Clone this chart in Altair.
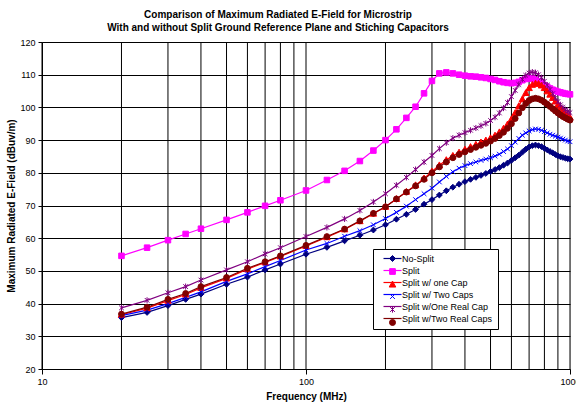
import altair as alt
import pandas as pd

# ---- data ----
freqs = [20, 25, 30, 35, 40, 50, 60, 70, 80, 100,
         120, 140, 160, 180, 200, 220, 240, 260, 280, 300,
         320, 340, 360, 380, 400, 420, 440, 460, 480, 500,
         520, 540, 560, 580, 600, 620, 640, 660, 680, 700,
         720, 740, 760, 780, 800, 820, 840, 860, 880, 900,
         920, 940, 960, 980, 1000]

no_split = [35.7, 37.3, 39.4, 41.3, 42.9, 45.9, 48.1, 50.3, 52.1, 55.1,
            57.2, 59.2, 60.9, 62.5, 64.1, 65.8, 67.3, 68.8, 70.4, 71.8,
            73.2, 74.5, 75.6, 76.5, 77.3, 78.0, 78.6, 79.2, 79.8, 80.4,
            81.0, 81.6, 82.3, 83.0, 83.8, 84.6, 85.4, 86.3, 87.2, 87.9,
            88.3, 88.5, 88.3, 88.0, 87.5, 87.0, 86.5, 86.1, 85.6, 85.2,
            84.9, 84.7, 84.5, 84.3, 84.2]

split = [54.6, 57.1, 59.4, 61.3, 62.9, 65.6, 67.9, 69.9, 71.6, 74.6,
         77.8, 80.6, 83.6, 86.8, 90.0, 93.3, 96.8, 100.2, 104.3, 108.1,
         110.4, 110.7, 110.4, 110.0, 109.7, 109.5, 109.4, 109.2, 109.0, 108.7,
         108.4, 108.0, 107.7, 107.5, 107.4, 107.5, 107.8, 108.3, 108.7, 108.9,
         108.8, 108.5, 108.0, 107.4, 106.8, 106.3, 105.8, 105.4, 105.1, 104.8,
         104.6, 104.4, 104.2, 104.1, 104.0]

one_cap = [36.6, 38.6, 40.9, 42.8, 44.8, 47.7, 50.5, 52.6, 54.4, 57.6,
           60.3, 62.7, 65.2, 67.5, 69.6, 72.0, 74.2, 76.2, 78.3, 80.4,
           82.3, 83.9, 85.2, 86.2, 87.1, 87.9, 88.6, 89.3, 89.9, 90.6,
           91.4, 92.4, 93.5, 94.8, 96.4, 98.3, 100.4, 102.5, 104.4, 105.9,
           106.9, 107.3, 107.2, 106.7, 105.9, 104.9, 103.9, 102.9, 101.8, 100.8,
           99.9, 99.0, 98.2, 97.5, 96.9]

two_caps = [36.3, 38.0, 40.0, 41.9, 43.6, 46.8, 49.1, 51.3, 53.2, 56.4,
            58.4, 60.6, 62.3, 64.1, 66.0, 67.9, 69.8, 71.8, 73.6, 75.3,
            77.2, 78.9, 80.3, 81.4, 82.2, 82.8, 83.3, 83.8, 84.2, 84.6,
            85.1, 85.7, 86.5, 87.3, 88.3, 89.4, 90.5, 91.5, 92.2, 92.8,
            93.2, 93.4, 93.3, 93.0, 92.6, 92.2, 91.8, 91.5, 91.2, 90.9,
            90.6, 90.3, 90.0, 89.7, 89.5]

one_real_cap = [38.7, 41.0, 43.3, 45.2, 47.2, 50.3, 52.8, 55.2, 57.1, 60.5,
                63.3, 65.9, 68.5, 71.1, 73.6, 76.2, 78.6, 81.0, 83.3, 85.3,
                87.4, 89.2, 90.6, 91.5, 92.3, 93.0, 93.7, 94.4, 95.1, 96.0,
                97.0, 98.3, 99.8, 101.5, 103.3, 105.2, 107.0, 108.6, 109.8, 110.5,
                110.8, 110.6, 110.0, 109.1, 108.0, 106.8, 105.5, 104.2, 102.9, 101.8,
                100.8, 100.0, 99.3, 98.8, 98.4]

two_real_caps = [36.8, 38.9, 41.3, 43.1, 45.2, 48.0, 50.8, 52.8, 54.6, 57.8,
                 60.5, 62.8, 65.3, 67.6, 69.6, 72.0, 74.1, 76.0, 78.0, 80.0,
                 81.8, 83.3, 84.6, 85.6, 86.4, 87.1, 87.8, 88.4, 89.0, 89.7,
                 90.5, 91.4, 92.4, 93.6, 95.0, 96.6, 98.3, 99.9, 101.2, 102.1,
                 102.6, 102.8, 102.6, 102.2, 101.6, 101.0, 100.3, 99.6, 98.9, 98.3,
                 97.7, 97.2, 96.8, 96.4, 96.1]

names = ["No-Split", "Split", "Split w/ one Cap", "Split w/ Two Caps",
         "Split w/One Real Cap", "Split w/Two Real Caps"]
colors = ["#000080", "#FF00FF", "#FF0000", "#0000FF", "#800080", "#800000"]

grid_freqs = [10, 20, 30, 40, 50, 60, 70, 80, 90,
              100, 200, 300, 400, 500, 600, 700, 800, 900, 1000]
x_label_values = [10, 100, 1000]
y_values = [20, 30, 40, 50, 60, 70, 80, 90, 100, 110, 120]

series = [no_split, split, one_cap, two_caps, one_real_cap, two_real_caps]

rows = []
for i, (name, vals) in enumerate(zip(names, series)):
    for f, v in zip(freqs, vals):
        rows.append({"freq": f, "value": v, "series": name,
                     "series_l": name, "order": i})
df = pd.DataFrame(rows)
grid_df = pd.DataFrame({"g": grid_freqs})

# marker shapes (unit paths)
DIAMOND = "M0,-1L1,0L0,1L-1,0Z"
SQUARE = "M-0.95,-0.95L0.95,-0.95L0.95,0.95L-0.95,0.95Z"
TRIANGLE = "M0,-1.15L1.1,0.85L-1.1,0.85Z"
XMARK = "M-0.8,-0.8L0.8,0.8M-0.8,0.8L0.8,-0.8"
STAR = "M-0.8,-0.8L0.8,0.8M-0.8,0.8L0.8,-0.8M0,-1.05L0,1.05"
CIRCLE = "circle"
markers = [DIAMOND, SQUARE, TRIANGLE, XMARK, STAR, CIRCLE]

FONT = "Liberation Sans"
LEG_X, LEG_Y = 331, 207

xscale = alt.Scale(type="log", domain=[10, 1000], nice=False)
yscale = alt.Scale(domain=[20, 120], nice=False, zero=False)
color_scale = alt.Scale(domain=names, range=colors)
shape_scale = alt.Scale(domain=names, range=markers)

x_axis = alt.Axis(values=x_label_values, format="d", grid=False,
                  tickSize=5, tickColor="black", domainColor="black",
                  labelFont=FONT, labelFontSize=9, labelColor="black",
                  labelPadding=3, labelFlush=False, labelOverlap=False,
                  title="Frequency (MHz)", titleFont=FONT,
                  titleFontSize=10, titleFontWeight="bold",
                  titleColor="black", titlePadding=5)
y_axis = alt.Axis(values=y_values, grid=True, gridColor="black",
                  gridWidth=1, gridOpacity=1, tickSize=4,
                  tickColor="black", domainColor="black",
                  labelFont=FONT, labelFontSize=9, labelColor="black",
                  labelPadding=3, labelOverlap=False, labelFlush=False,
                  title="Maximum Radiated E-Field  (dBuv/m)",
                  titleFont=FONT, titleFontSize=10,
                  titleFontWeight="bold", titleColor="black",
                  titlePadding=3)

grid = alt.Chart(grid_df).mark_rule(color="black", strokeWidth=1).encode(
    x=alt.X("g:Q", scale=xscale, axis=x_axis)
)

# legend A: the line part + labels + frame
leg_a = alt.Legend(title=None, orient="none", legendX=LEG_X, legendY=LEG_Y,
                   fillColor="white", strokeColor="black", padding=5,
                   labelFont=FONT, labelFontSize=9, labelColor="black",
                   labelOffset=5, symbolSize=36, symbolStrokeWidth=1.2,
                   symbolType="M-3,0L3,0", rowPadding=2, symbolOffset=10,
                   zindex=1)
# legend B: only the markers, overlaid on legend A
leg_b = alt.Legend(title=None, orient="none", legendX=LEG_X, legendY=LEG_Y,
                   padding=5, labelFont=FONT, labelFontSize=9,
                   labelExpr="''", labelOffset=5, symbolSize=36,
                   symbolStrokeWidth=1, rowPadding=2, symbolOffset=10,
                   zindex=2)

lines = alt.Chart(df).mark_line(strokeWidth=1.2).encode(
    x=alt.X("freq:Q", scale=xscale, axis=x_axis),
    y=alt.Y("value:Q", scale=yscale, axis=y_axis),
    stroke=alt.Stroke("series_l:N",
                      sort=alt.EncodingSortField(field="order", op="min"),
                      scale=alt.Scale(range=colors), legend=leg_a),
)

points = alt.Chart(df).mark_point(filled=False, size=34, strokeWidth=1,
                                   opacity=1).encode(
    x=alt.X("freq:Q", scale=xscale, axis=x_axis),
    y=alt.Y("value:Q", scale=yscale, axis=y_axis),
    color=alt.Color("series:N", scale=color_scale, legend=leg_b),
    fill=alt.Fill("series:N", scale=color_scale, legend=leg_b),
    shape=alt.Shape("series:N", scale=shape_scale, legend=leg_b),
)

chart = alt.layer(grid, lines, points).properties(
    width=528, height=327,
    title=alt.TitleParams(
        ["Comparison of Maximum Radiated E-Field for Microstrip",
         "With and without Split Ground Reference Plane and Stiching Capacitors"],
        font=FONT, fontSize=10, fontWeight="bold", color="black",
        anchor="middle", dx=-28, offset=5, lineHeight=13),
    padding={"left": 42, "top": 42, "right": 6, "bottom": 33},
    autosize=alt.AutoSizeParams(type="none"),
).configure_view(stroke=None).configure(background="white")

chart.save("out.html", embed_options={"renderer": "svg", "actions": False})
